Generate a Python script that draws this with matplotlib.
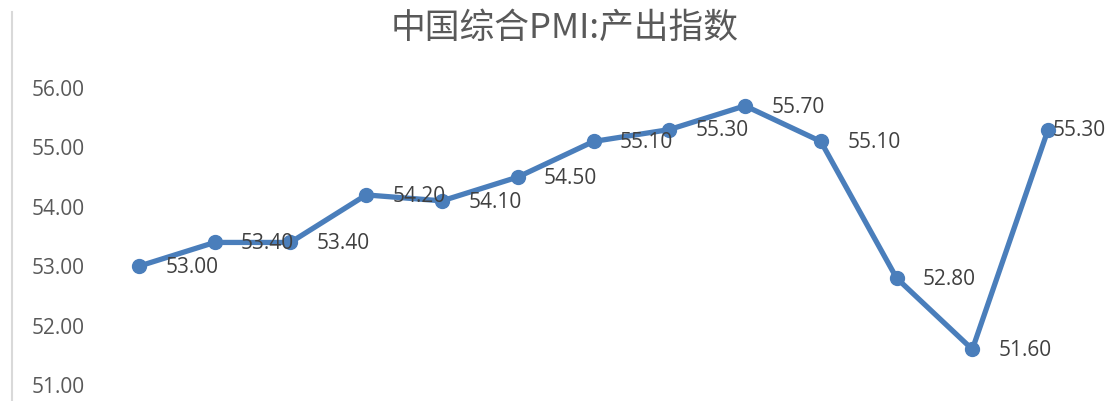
import matplotlib
matplotlib.use("Agg")
import matplotlib.pyplot as plt
from matplotlib.lines import Line2D

plt.rcParams['font.family'] = ['Open Sans', 'Noto Sans CJK SC', 'DejaVu Sans']

title = "中国综合PMI:产出指数"
categories = list(range(1, 14))
values = [53.00, 53.40, 53.40, 54.20, 54.10, 54.50, 55.10, 55.30, 55.70, 55.10, 52.80, 51.60, 55.30]
yticks = [51, 52, 53, 54, 55, 56]

W, H = 1110, 401
fig = plt.figure(figsize=(W / 100, H / 100), dpi=100)
left, right = 101 / W, 1086 / W
bottom, top = (H - 385) / H, (H - 88) / H
ax = fig.add_axes([left, bottom, right - left, top - bottom])

x = list(range(len(values)))
color = '#4a7ebb'
ax.plot(x, values, color=color, lw=3.8, marker='o', ms=10, clip_on=False, solid_capstyle='round')

n = len(values)
for i, (xi, v) in enumerate(zip(x, values)):
    dx = 19 if i < n - 1 else 3
    ax.annotate(f"{v:.2f}", (xi, v), xytext=(dx, -1), textcoords='offset points',
                ha='left', va='center', fontsize=15, color='#404040')

ax.set_xlim(-0.5, n - 0.5)
ax.set_ylim(51, 56)
ax.set_yticks(yticks)
ax.set_yticklabels([f"{t:.2f}" for t in yticks])
ax.tick_params(axis='y', length=0, pad=12, labelsize=15, labelcolor='#595959')
ax.set_xticks([])
for s in ax.spines.values():
    s.set_visible(False)

fig.text(565 / W, 1 - 28 / H, title, ha='center', va='center', fontsize=25,
         color='#595959', fontweight='light', family=['Noto Sans CJK SC', 'DejaVu Sans'])

fig.add_artist(Line2D([12 / W, 12 / W], [0, 1 - 12 / H], transform=fig.transFigure,
                      color='#d9d9d9', lw=1.5))

fig.savefig("out.png", dpi=100, facecolor='white')
